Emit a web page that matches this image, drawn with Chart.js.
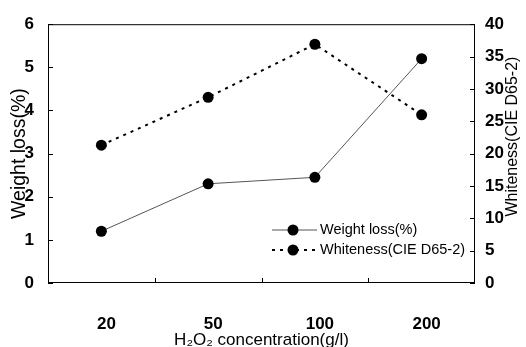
<!DOCTYPE html>
<html>
<head>
<meta charset="utf-8">
<script src="https://cdn.jsdelivr.net/npm/chart.js@4.4.0/dist/chart.umd.min.js"></script>
<style>
html, body { margin: 0; padding: 0; background: #fff; }
#wrap { width: 526px; height: 347px; }
</style>
</head>
<body>
<div id="wrap"><canvas id="c" width="526" height="347"></canvas></div>
<script>
// 圖表資料
const concLabels = ['20', '50', '100', '200'];
const weightLoss = [1.2, 2.3, 2.45, 5.2];
const whiteness = [21.3, 28.7, 36.9, 26.0];

const xTitle = 'H\u2082O\u2082 concentration(g/l)';
const leftTitle = 'Weight loss(%)';
const rightTitle = 'Whiteness(CIE D65-2)';

const FONT = '"Liberation Sans", Arial, sans-serif';

// 外框 + 向內刻度
const framePlugin = {
    id: 'frame',
    afterDatasetsDraw(chart) {
        const { ctx, chartArea: a, scales } = chart;
        const len = 5;
        ctx.save();
        ctx.strokeStyle = '#000';
        ctx.lineWidth = 1;
        ctx.strokeRect(a.left + 0.5, a.top + 0.5, a.right - a.left - 1, a.bottom - a.top - 1);
        ctx.beginPath();
        scales.y.ticks.forEach((t, i) => {
            const y = Math.round(scales.y.getPixelForTick(i)) + 0.5;
            ctx.moveTo(a.left, y); ctx.lineTo(a.left + len, y);
        });
        scales.y1.ticks.forEach((t, i) => {
            const y = Math.round(scales.y1.getPixelForTick(i)) + 0.5;
            ctx.moveTo(a.right, y); ctx.lineTo(a.right - len, y);
        });
        for (let i = 1; i < concLabels.length; i++) {
            const x = Math.round((scales.x.getPixelForTick(i - 1) + scales.x.getPixelForTick(i)) / 2) + 0.5;
            ctx.moveTo(x, a.bottom); ctx.lineTo(x, a.bottom - len);
        }
        ctx.stroke();

        // 右側標題 (由下往上)
        const s = scales.y1;
        ctx.fillStyle = '#000';
        ctx.font = '16px ' + FONT;
        ctx.textAlign = 'center';
        ctx.textBaseline = 'middle';
        ctx.translate(s.right - 13, (a.top + a.bottom) / 2 - 17);
        ctx.rotate(-Math.PI / 2);
        ctx.fillText(rightTitle, 0, 0);
        ctx.restore();
    }
};

// 圖例 (畫在圖內右下)
const legendPlugin = {
    id: 'innerLegend',
    afterDraw(chart) {
        const { ctx, chartArea: a } = chart;
        const x0 = a.right - 203;
        const y0 = a.bottom - 53;
        ctx.save();
        ctx.font = '14.5px ' + FONT;
        ctx.textBaseline = 'middle';
        ctx.fillStyle = '#000';
        chart.data.datasets.forEach((ds, i) => {
            const y = y0 + i * 20;
            ctx.beginPath();
            ctx.strokeStyle = ds.borderColor;
            ctx.lineWidth = ds.borderWidth;
            ctx.setLineDash(ds.borderDash || []);
            ctx.moveTo(x0, y); ctx.lineTo(x0 + 45, y);
            ctx.stroke();
            ctx.setLineDash([]);
            ctx.beginPath();
            ctx.fillStyle = '#000';
            ctx.arc(x0 + 21, y, ds.pointRadius, 0, Math.PI * 2);
            ctx.fill();
            ctx.fillText(ds.label, x0 + 48, y);
        });
        ctx.restore();
    }
};

new Chart(document.getElementById('c'), {
    type: 'line',
    data: {
        labels: concLabels,
        datasets: [{
            label: 'Weight loss(%)',
            data: weightLoss,
            yAxisID: 'y',
            borderColor: '#555',
            borderWidth: 1,
            pointRadius: 5.5,
            pointBackgroundColor: '#000',
            pointBorderWidth: 0,
            tension: 0
        }, {
            label: 'Whiteness(CIE D65-2)',
            data: whiteness,
            yAxisID: 'y1',
            borderColor: '#000',
            borderWidth: 2,
            borderDash: [3, 5],
            pointRadius: 5.5,
            pointBackgroundColor: '#000',
            pointBorderWidth: 0,
            tension: 0
        }]
    },
    options: {
        responsive: false,
        animation: false,
        devicePixelRatio: 1,
        layout: { padding: { top: 12, right: 0, left: 0, bottom: 0 } },
        plugins: {
            legend: { display: false },
            tooltip: { enabled: false }
        },
        scales: {
            x: {
                offset: true,
                grid: { display: false, drawTicks: false },
                border: { display: false },
                ticks: {
                    color: '#000',
                    font: { family: FONT, size: 17, weight: 'bold' },
                    padding: 31,
                    labelOffset: 5,
                    maxRotation: 0
                },
                title: {
                    display: true,
                    text: xTitle,
                    color: '#000',
                    font: { family: FONT, size: 17, lineHeight: 0.75 },
                    padding: { top: 0, bottom: 0 }
                },
                afterFit(s) { s.height = 64; }
            },
            y: {
                position: 'left',
                min: 0, max: 6,
                grid: { display: false, drawTicks: false },
                border: { display: false },
                ticks: {
                    stepSize: 1,
                    color: '#000',
                    font: { family: FONT, size: 17, weight: 'bold' },
                    padding: 14
                },
                title: {
                    display: true,
                    text: leftTitle,
                    color: '#000',
                    font: { family: FONT, size: 19.5 },
                    padding: { top: 8, bottom: 0 }
                },
                afterFit(s) { s.width = 48; }
            },
            y1: {
                position: 'right',
                min: 0, max: 40,
                grid: { display: false, drawTicks: false },
                border: { display: false },
                ticks: {
                    stepSize: 5,
                    color: '#000',
                    font: { family: FONT, size: 17, weight: 'bold' },
                    padding: 10
                },
                afterFit(s) { s.width = 51; }
            }
        }
    },
    plugins: [framePlugin, legendPlugin]
});
</script>
</body>
</html>
